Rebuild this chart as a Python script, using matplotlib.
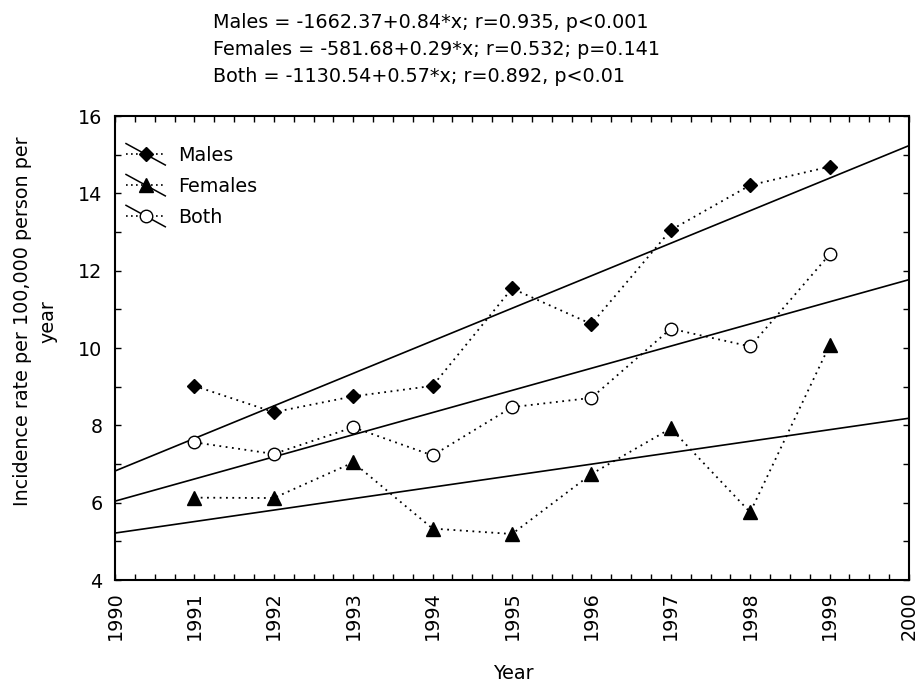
import numpy as np
import matplotlib
matplotlib.use("Agg")
import matplotlib.pyplot as plt
from matplotlib.legend_handler import HandlerBase
from matplotlib.lines import Line2D

plt.rcParams['font.family'] = ['DejaVu Sans']
FS = 13.8

years = [1991, 1992, 1993, 1994, 1995, 1996, 1997, 1998, 1999]
males = [9.02, 8.34, 8.75, 9.02, 11.54, 10.62, 13.05, 14.21, 14.69]
females = [6.13, 6.12, 7.04, 5.33, 5.19, 6.74, 7.92, 5.75, 10.07]
both = [7.56, 7.26, 7.95, 7.22, 8.47, 8.71, 10.5, 10.04, 12.42]
series_names = ["Males", "Females", "Both"]
equations = [
    "Males = -1662.37+0.84*x; r=0.935, p<0.001",
    "Females = -581.68+0.29*x; r=0.532; p=0.141",
    "Both = -1130.54+0.57*x; r=0.892, p<0.01",
]
x_ticks = list(range(1990, 2001))
y_ticks = [4, 6, 8, 10, 12, 14, 16]

W, H = 921, 686
fig = plt.figure(figsize=(W / 100, H / 100), dpi=100)
ax = fig.add_axes([115 / W, 1 - 580 / H, (909 - 115) / W, (580 - 116) / H])

styles = [
    dict(marker='D', ms=7.5, mfc='black', mec='black'),
    dict(marker='^', ms=9.5, mfc='black', mec='black'),
    dict(marker='o', ms=9.0, mfc='white', mec='black', mew=1.0),
]
xs = np.array(years, dtype=float)
xfit = np.array([1990.0, 2000.0])
handles = []
for name, ys, st in zip(series_names, [males, females, both], styles):
    ys = np.array(ys)
    slope, icpt = np.polyfit(xs, ys, 1)
    ax.plot(xfit, icpt + slope * xfit, color='black', lw=1.2, zorder=2)
    ln, = ax.plot(xs, ys, color='black', ls=(0, (1, 2.5)), lw=1.3, zorder=3, **st)
    handles.append(ln)


class DiagHandler(HandlerBase):
    def create_artists(self, legend, orig, xd, yd, w, h, fontsize, trans):
        c = h / 2 - yd
        solid = Line2D([-xd, w - xd], [c + 0.8 * h, c - 0.8 * h], color='black', lw=1.1)
        dotted = Line2D([-xd, w - xd], [c, c], color='black', ls=(0, (1, 2.0)), lw=1.2)
        mk = Line2D([w / 2 - xd], [c], ls='none', marker=orig.get_marker(),
                    ms=orig.get_markersize(), mfc=orig.get_markerfacecolor(),
                    mec=orig.get_markeredgecolor(), mew=orig.get_markeredgewidth())
        for a in (solid, dotted, mk):
            a.set_transform(trans)
        return [solid, dotted, mk]


ax.legend(handles, series_names, loc='upper left', frameon=False,
          handler_map={Line2D: DiagHandler()}, fontsize=FS,
          handlelength=2.05, handletextpad=0.65, labelspacing=0.62,
          borderpad=0.0, borderaxespad=0.0,
          bbox_to_anchor=(126 / W, 1 - 146 / H), bbox_transform=fig.transFigure)

ax.set_xlim(1990, 2000)
ax.set_ylim(4, 16)
ax.set_xticks(x_ticks)
ax.set_xticklabels([str(v) for v in x_ticks], rotation=90, fontsize=FS)
ax.set_xticks(np.arange(1990, 2000.01, 0.25), minor=True)
ax.set_yticks(y_ticks)
ax.set_yticklabels([str(v) for v in y_ticks], fontsize=FS)
ax.set_yticks(np.arange(4, 16.01, 1), minor=True)
ax.tick_params(which='both', direction='in', top=True, right=True, length=4, width=1)
ax.tick_params(axis='x', which='major', pad=8)
ax.tick_params(axis='y', which='major', pad=9)
for s in ax.spines.values():
    s.set_linewidth(1.5)

fig.text(513 / W, 1 - 679 / H, "Year", fontsize=FS, ha='center', va='baseline')
fig.text(35 / W, 1 - 321.5 / H, "Incidence rate per 100,000 person per\nyear",
         fontsize=FS, rotation=90, ha='center', va='center', multialignment='center',
         linespacing=1.45)

for i, eq in enumerate(equations):
    fig.text(213 / W, 1 - (28 + 27 * i) / H, eq, fontsize=FS, ha='left', va='baseline')

fig.savefig("out.png", dpi=100)
